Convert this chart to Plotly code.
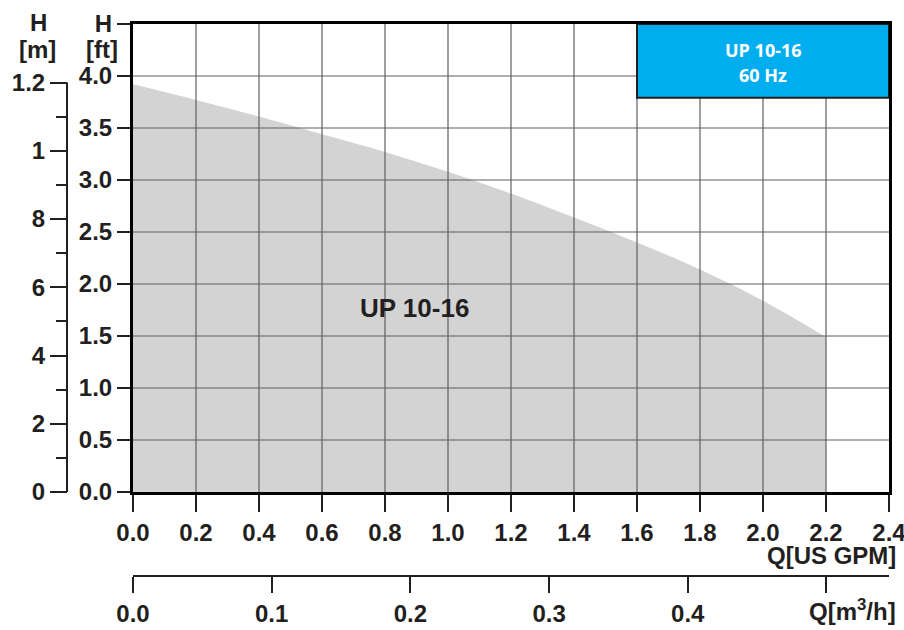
import plotly.graph_objects as go

# ---- data ----
q_gpm = [0.0, 0.2, 0.4, 0.6, 0.8, 1.0, 1.2, 1.4, 1.6, 1.8, 2.0, 2.2]
h_ft = [3.92, 3.77, 3.61, 3.44, 3.27, 3.08, 2.87, 2.64, 2.40, 2.14, 1.84, 1.49]

x_ticks = [0.0, 0.2, 0.4, 0.6, 0.8, 1.0, 1.2, 1.4, 1.6, 1.8, 2.0, 2.2, 2.4]
x_ticktext = ["0.0", "0.2", "0.4", "0.6", "0.8", "1.0", "1.2", "1.4", "1.6", "1.8", "2.0", "2.2", "2.4"]
y_ticks = [0.0, 0.5, 1.0, 1.5, 2.0, 2.5, 3.0, 3.5, 4.0, 4.5]
y_ticktext = ["0.0", "0.5", "1.0", "1.5", "2.0", "2.5", "3.0", "3.5", "4.0", "H"]
m_ticks = [0.0, 0.2, 0.4, 0.6, 0.8, 1.0, 1.2]
m_ticktext = ["0", "2", "4", "6", "8", "1", "1.2"]
m_minor = [0.1, 0.3, 0.5, 0.7, 0.9, 1.1]
q_m3h_ticks = [0.0, 0.1, 0.2, 0.3, 0.4, 0.5]
q_m3h_ticktext = ["0.0", "0.1", "0.2", "0.3", "0.4", ""]

curve_label = "UP 10-16"
box_title = ["UP 10-16", "60 Hz"]
box_x = [1.6, 2.4]
box_y = [3.79, 4.5]

FT_TO_M = 0.3048
GPM_TO_M3H = 1 / 4.40287

W, H = 904, 630
ML, MR, MT, MB = 0, 15, 24, 0
PW, PH = W - ML - MR, H - MT - MB
plot_left, plot_bottom = 133, 492
xdom0 = (plot_left - ML) / PW
ydom0 = (H - MB - plot_bottom) / PH
txt = "#231f20"
FONT = "Liberation Sans"

fig = go.Figure()
fig.add_trace(go.Scatter(x=q_gpm, y=h_ft, mode="lines", fill="tozeroy",
                         fillcolor="#d3d3d3", line=dict(width=0, shape="spline"),
                         hoverinfo="skip", showlegend=False))
fig.add_trace(go.Scatter(x=[], y=[], xaxis="x2", yaxis="y", showlegend=False))
fig.add_trace(go.Scatter(x=[], y=[], xaxis="x", yaxis="y2", showlegend=False))

tickfont = dict(family=FONT, size=24, color=txt, weight="bold")

fig.update_layout(
    width=W, height=H, margin=dict(l=ML, r=MR, t=MT, b=MB),
    paper_bgcolor="white", plot_bgcolor="white", showlegend=False,
    xaxis=dict(domain=[xdom0, 1], range=[0, 2.4], tickvals=x_ticks, ticktext=x_ticktext,
               ticks="outside", ticklen=17, tickwidth=2, tickcolor=txt,
               showgrid=False, zeroline=False, showline=True, linewidth=3,
               linecolor="black", mirror=True, tickfont=tickfont, ticklabeloverflow="allow",
               layer="above traces", automargin=False, fixedrange=True),
    yaxis=dict(domain=[ydom0, 1], range=[0, 4.5], tickvals=y_ticks, ticktext=y_ticktext,
               ticks="outside", ticklen=13, tickwidth=2, tickcolor=txt,
               showgrid=False, zeroline=False, showline=True, linewidth=3,
               linecolor="black", mirror=True, tickfont=tickfont, ticklabeloverflow="allow",
               layer="above traces", automargin=False, fixedrange=True),
    xaxis2=dict(overlaying="x", anchor="free", position=(H - MB - 576) / PH, side="bottom",
                range=[0, 2.4 * GPM_TO_M3H], tickvals=q_m3h_ticks, ticktext=q_m3h_ticktext,
                ticks="outside", ticklen=16, tickwidth=2, tickcolor=txt,
                showgrid=False, zeroline=False, showline=True, linewidth=2,
                linecolor=txt, tickfont=tickfont, automargin=False, fixedrange=True),
    yaxis2=dict(overlaying="y", anchor="free", position=(67 - ML) / PW, side="left",
                range=[0, 4.5 * FT_TO_M], tickvals=m_ticks, ticktext=m_ticktext,
                ticks="outside", ticklen=17, tickwidth=2, tickcolor=txt,
                minor=dict(tickvals=m_minor, ticks="outside", ticklen=11, tickwidth=2, tickcolor=txt),
                showgrid=False, zeroline=False, showline=False,
                tickfont=tickfont, automargin=False, fixedrange=True),
)

shapes = []
for xv in x_ticks[1:-1]:
    shapes.append(dict(type="line", xref="x", yref="y", x0=xv, x1=xv, y0=0, y1=y_ticks[-1],
                       line=dict(color="#5f5f5f", width=1.2), layer="above"))
for yv in y_ticks[1:-1]:
    shapes.append(dict(type="line", xref="x", yref="y", x0=0, x1=x_ticks[-1], y0=yv, y1=yv,
                       line=dict(color="#5f5f5f", width=1.2), layer="above"))
shapes.append(dict(type="rect", xref="x", yref="y", x0=box_x[0], x1=box_x[1], y0=box_y[0], y1=box_y[1],
                   fillcolor="#00aeef", line=dict(color="#231f20", width=2), layer="above"))
shapes.append(dict(type="line", xref="paper", yref="y2", x0=(67 - ML) / PW, x1=(67 - ML) / PW,
                   y0=m_ticks[0], y1=m_ticks[-1], line=dict(color=txt, width=2)))
fig.update_layout(shapes=shapes)

lab = dict(family=FONT, size=24, color=txt, weight="bold")
ann = []
ann.append(dict(text=curve_label, x=0.894, y=1.77, xref="x", yref="y", showarrow=False,
                font=dict(family=FONT, size=26, color=txt, weight="bold")))
bx = (box_x[0] + box_x[1]) / 2
ann.append(dict(text=box_title[0], x=bx, y=box_y[1], xref="x", yref="y", yanchor="middle",
                yshift=-26, showarrow=False,
                font=dict(family="Open Sans", size=18, color="white", weight="bold")))
ann.append(dict(text=box_title[1], x=bx, y=box_y[1], xref="x", yref="y", yanchor="middle",
                yshift=-51, showarrow=False,
                font=dict(family="Open Sans", size=18, color="white", weight="bold")))
ann.append(dict(text="[ft]", x=0, y=4.5, xref="x", yref="y", xanchor="right", yanchor="middle",
                xshift=-13, yshift=-25, showarrow=False, font=lab))
ann.append(dict(text="H", x=(38 - ML) / PW, y=4.5, xref="paper", yref="y", xanchor="center",
                yanchor="middle", yshift=2, showarrow=False, font=lab))
ann.append(dict(text="[m]", x=(37 - ML) / PW, y=4.5, xref="paper", yref="y", xanchor="center",
                yanchor="middle", yshift=-25, showarrow=False, font=lab))
ann.append(dict(text="Q[US GPM]", x=(898 - ML) / PW, y=(H - MB - 555) / PH, xref="paper", yref="paper",
                xanchor="right", yanchor="middle", showarrow=False, font=lab))
ann.append(dict(text="Q[m<sup>3</sup>/h]", x=(898 - ML) / PW, y=(H - MB - 610) / PH, xref="paper",
                yref="paper", xanchor="right", yanchor="middle", showarrow=False, font=lab))
fig.update_layout(annotations=ann)

fig.write_html("out.html", config={"displayModeBar": False},
               post_script="document.body.style.margin='0';document.body.style.overflow='hidden';")
